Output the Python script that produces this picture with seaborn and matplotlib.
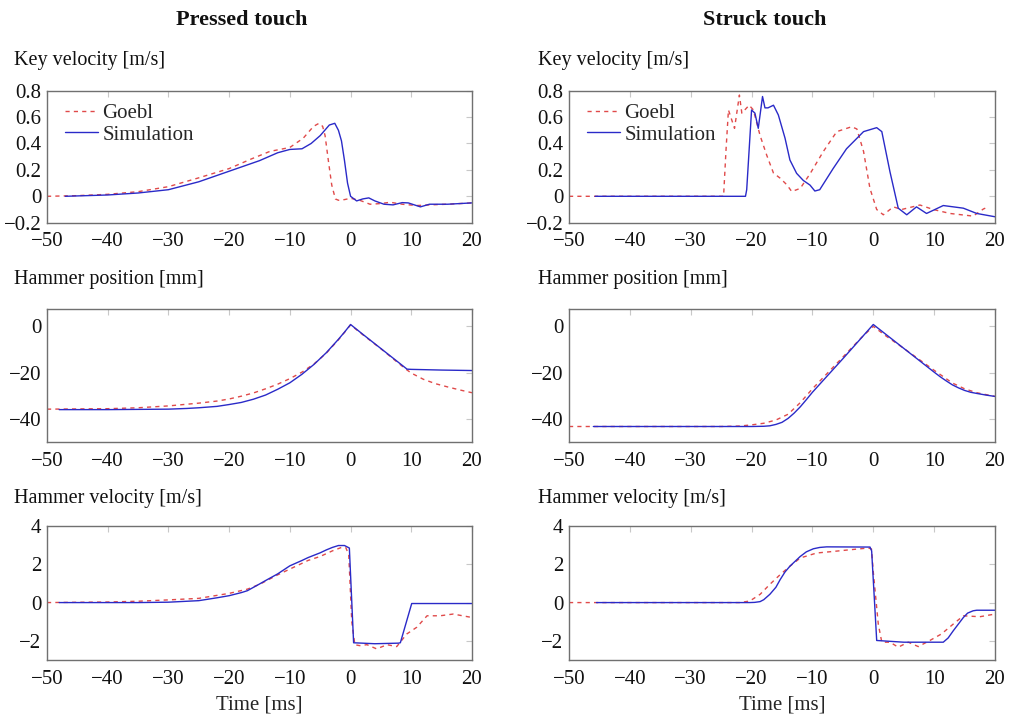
import numpy as np
import pandas as pd
import matplotlib
matplotlib.use("Agg")
import matplotlib.pyplot as plt
from matplotlib.ticker import FixedLocator, FuncFormatter
import seaborn as sns

# ---------------- data ----------------
# Key velocity, pressed touch [m/s]
kvp_goebl_t = [-50, -45, -40, -35, -30, -25, -20, -16.5, -13.3, -10, -7.8, -6.1, -5.2, -4.6, -4.2, -3.6, -3.1,
               -2.5, -2, -1, 0, 1.5, 3.2, 5, 6.5, 8.5, 10.9, 13, 16, 20]
kvp_goebl_v = [0, 0.005, 0.015, 0.035, 0.073, 0.14, 0.21, 0.28, 0.34, 0.37, 0.44, 0.53, 0.553, 0.53, 0.46, 0.25,
               0.085, -0.02, -0.03, -0.025, -0.015, -0.03, -0.06, -0.055, -0.045, -0.06, -0.07, -0.065, -0.06, -0.05]
kvp_sim_t = [-47, -40, -35, -30, -25, -20, -15, -12, -10, -8, -6.5, -5, -3.5, -2.6, -2, -1.5, -1, -0.5, 0, 1, 2, 3,
             4, 5.5, 7, 8.5, 9.5, 11.5, 13, 16, 20]
kvp_sim_v = [0, 0.01, 0.025, 0.05, 0.11, 0.19, 0.27, 0.33, 0.355, 0.36, 0.4, 0.46, 0.54, 0.553, 0.5, 0.42, 0.27,
             0.1, 0.0, -0.035, -0.02, -0.012, -0.035, -0.06, -0.065, -0.048, -0.05, -0.08, -0.06, -0.06, -0.05]

# Key velocity, struck touch [m/s]
kvs_goebl_t = [-50, -24.6, -24.2, -23.8, -22.8, -22.0, -21.6, -20.4, -19.7, -18.6, -17.5, -16.4, -15.3, -14.2,
               -13.4, -12.0, -10.4, -8.2, -6.0, -3.55, -2.7, -1.6, -0.55, 0.56, 1.65, 3.3, 4.66, 7.67, 9.86, 12.6,
               16.4, 18.1, 18.4]
kvs_goebl_v = [0, 0, 0.35, 0.654, 0.515, 0.767, 0.63, 0.69, 0.654, 0.46, 0.31, 0.176, 0.137, 0.087, 0.036, 0.06,
               0.17, 0.34, 0.49, 0.527, 0.51, 0.34, 0.06, -0.1, -0.14, -0.08, -0.1, -0.066, -0.1, -0.13, -0.15,
               -0.096, -0.09]
kvs_sim_t = [-45.7, -21, -20.8, -20.0, -19.45, -18.9, -18.2, -17.8, -17.3, -16.4, -15.6, -14.5, -13.7, -12.6,
             -11.5, -10.4, -9.6, -8.8, -6.6, -4.4, -1.6, 0.56, 1.4, 2.74, 4.1, 5.5, 7.1, 8.75, 11.5, 14.8, 17.0, 20]
kvs_sim_v = [0, 0, 0.05, 0.654, 0.63, 0.515, 0.756, 0.67, 0.67, 0.69, 0.616, 0.44, 0.275, 0.174, 0.12, 0.085,
             0.04, 0.05, 0.21, 0.36, 0.49, 0.52, 0.49, 0.186, -0.09, -0.14, -0.08, -0.13, -0.07, -0.09, -0.13, -0.155]

# Hammer position, pressed touch [mm]
hpp_goebl_t = [-50, -40, -35, -30, -25, -22, -20, -18, -16, -14, -12, -10, -8, -6, -4, -2, -1, 0, 2, 5, 9, 10,
               12, 14, 16, 18, 20]
hpp_goebl_v = [-35.8, -35.6, -35.2, -34.4, -33.2, -32.3, -31.4, -30.2, -28.8, -27.0, -25.0, -22.6, -19.8, -16.2,
               -11.6, -5.8, -2.6, 0.6, -3.6, -9.7, -18.3, -20.2, -22.9, -24.8, -26.2, -27.5, -28.7]
hpp_sim_t = [-48, -40, -30, -27, -25, -22, -20, -18, -16, -14, -12, -10, -8, -6, -4, -2, -1, 0, 2, 5, 9.3, 10,
             15, 20]
hpp_sim_v = [-36, -36, -35.8, -35.5, -35.2, -34.6, -33.8, -32.9, -31.5, -29.7, -27.2, -24.4, -20.7, -16.4, -11.4,
             -5.6, -2.5, 0.8, -3.4, -9.6, -18.5, -18.6, -18.9, -19.1]

# Hammer position, struck touch [mm]
hps_goebl_t = [-50, -25, -22, -20, -18, -16, -14, -12, -10, -8, -5, -2, 0, 2, 5, 10, 13, 15, 17, 20]
hps_goebl_v = [-43.3, -43.3, -43.1, -42.6, -41.9, -40.5, -38, -33, -27, -21.5, -13.3, -5, 0, -4, -9.5, -19,
               -24.5, -27, -28.7, -30.3]
hps_sim_t = [-46, -20, -18, -17, -16, -15, -14, -13, -12, -11, -10, -5, 0, 5, 10, 11, 12, 13, 14, 15, 16, 17,
             18.5, 20]
hps_sim_v = [-43.3, -43.3, -43.2, -43, -42.4, -41.5, -39.8, -37.5, -34.8, -31.7, -28.5, -14, 0.8, -9.5, -19.8,
             -21.8, -23.6, -25.3, -26.6, -27.7, -28.5, -29, -29.7, -30.3]

# Hammer velocity, pressed touch [m/s]
hvp_goebl_t = [-50, -40, -35, -30, -25, -20, -17, -15, -12, -10, -7, -5, -3, -1.5, -0.8, -0.3, 0.2, 0.7, 1.5,
               2.7, 4.3, 6.0, 7.6, 9.26, 10.9, 12.6, 14.75, 16.9, 20]
hvp_goebl_v = [0, 0.03, 0.07, 0.14, 0.22, 0.48, 0.7, 0.95, 1.45, 1.75, 2.2, 2.41, 2.7, 2.88, 2.88, 2.5, -1.0,
               -2.2, -2.25, -2.2, -2.42, -2.2, -2.3, -1.64, -1.29, -0.69, -0.69, -0.6, -0.78]
hvp_sim_t = [-48, -40, -35, -30, -25, -22, -20, -18, -17, -15, -14, -12, -10, -8, -7, -5, -4, -3, -2, -1, -0.2,
             0.5, 4, 7.87, 8.2, 10.07, 20]
hvp_sim_v = [0, 0, 0.0, 0.02, 0.1, 0.25, 0.36, 0.52, 0.62, 0.97, 1.15, 1.5, 1.92, 2.2, 2.35, 2.6, 2.75, 2.88,
             2.98, 2.98, 2.85, -2.1, -2.15, -2.12, -2.1, -0.05, -0.05]

# Hammer velocity, struck touch [m/s]
hvs_goebl_t = [-50, -22, -20.3, -18.6, -17.0, -15.3, -13.7, -12.0, -9.3, -6.6, -3.8, -0.8, -0.3, 0.0, 0.82, 1.4,
               2.74, 4.1, 5.75, 7.4, 9.3, 11.2, 13.15, 14.8, 17.5, 20]
hvs_goebl_v = [0, 0, 0.08, 0.43, 0.95, 1.46, 1.9, 2.33, 2.59, 2.67, 2.76, 2.85, 2.8, 1.6, -1.12, -2.07, -2.07,
               -2.33, -2.07, -2.3, -1.98, -1.64, -1.12, -0.69, -0.74, -0.6]
hvs_sim_t = [-45.5, -20.3, -19.5, -18.6, -18.0, -17.0, -16.0, -15.3, -14.5, -13.7, -12.0, -11.0, -9.85, -8.8,
             -7.66, -0.54, -0.27, 0.56, 5, 11.5, 12.3, 13.15, 14.8, 15.5, 16.4, 17.0, 20]
hvs_sim_v = [0, 0, 0.01, 0.05, 0.15, 0.43, 0.8, 1.2, 1.6, 1.9, 2.41, 2.65, 2.81, 2.88, 2.91, 2.9, 2.7, -1.98,
             -2.07, -2.07, -1.85, -1.47, -0.78, -0.55, -0.43, -0.4, -0.4]

col_titles = ["Pressed touch", "Struck touch"]
row_labels = ["Key velocity [m/s]", "Hammer position [mm]", "Hammer velocity [m/s]"]
x_label = "Time [ms]"
series_names = ["Goebl", "Simulation"]
x_ticks = [-50, -40, -30, -20, -10, 0, 10, 20]
y_ticks = [[-0.2, 0, 0.2, 0.4, 0.6, 0.8], [-40, -20, 0], [-2, 0, 2, 4]]
y_lims = [(-0.2, 0.8), (-50, 7.5), (-3, 4)]

panels = [
    [(kvp_goebl_t, kvp_goebl_v, kvp_sim_t, kvp_sim_v), (kvs_goebl_t, kvs_goebl_v, kvs_sim_t, kvs_sim_v)],
    [(hpp_goebl_t, hpp_goebl_v, hpp_sim_t, hpp_sim_v), (hps_goebl_t, hps_goebl_v, hps_sim_t, hps_sim_v)],
    [(hvp_goebl_t, hvp_goebl_v, hvp_sim_t, hvp_sim_v), (hvs_goebl_t, hvs_goebl_v, hvs_sim_t, hvs_sim_v)],
]

# ---------------- style ----------------
sns.set_theme(style="white")
plt.rcParams["font.family"] = ["Liberation Serif", "DejaVu Serif"]
plt.rcParams["axes.unicode_minus"] = True
FS = 15

W, H = 1024, 723
fig = plt.figure(figsize=(W / 100, H / 100), dpi=100)

col_x = [(47, 472), (569, 995)]
row_y = [(90.7, 222.7), (309, 442), (526, 660)]
label_x = [14, 538]
label_y = [60, 280, 498]
title_x = [242, 765]

palette = {"Goebl": "#e04a4a", "Simulation": "#2a2ac8"}
dashes = {"Goebl": (3, 3), "Simulation": ""}


def fmt(v, pos):
    s = "%g" % v
    return s.replace("-", "\u2212")


for r in range(3):
    for c in range(2):
        x0, x1 = col_x[c]
        y0, y1 = row_y[r]
        ax = fig.add_axes([x0 / W, 1 - y1 / H, (x1 - x0) / W, (y1 - y0) / H])
        gt, gv, st, sv = panels[r][c]
        df = pd.DataFrame({
            "t": list(gt) + list(st),
            "v": list(gv) + list(sv),
            "src": ["Goebl"] * len(gt) + ["Simulation"] * len(st),
        })
        sns.lineplot(data=df, x="t", y="v", hue="src", style="src", palette=palette,
                     dashes=dashes, estimator=None, sort=False, linewidth=1.0,
                     legend=(r == 0), ax=ax)
        ax.set_xlim(-50, 20)
        ax.set_ylim(*y_lims[r])
        ax.xaxis.set_major_locator(FixedLocator(x_ticks))
        ax.yaxis.set_major_locator(FixedLocator(y_ticks[r]))
        ax.xaxis.set_major_formatter(FuncFormatter(fmt))
        ax.yaxis.set_major_formatter(FuncFormatter(fmt))
        ax.tick_params(direction="in", top=True, right=True, length=4, width=0.8,
                       color="#c8c8c8", labelsize=FS, labelcolor="#111111")
        ax.tick_params(axis="x", pad=7)
        ax.tick_params(axis="y", pad=4)
        for sp in ax.spines.values():
            sp.set_color("#707070")
            sp.set_linewidth(1.0)
        ax.set_xlabel("")
        ax.set_ylabel("")
        if r == 0:
            sns.move_legend(ax, "upper left", bbox_to_anchor=(0.032, 0.935), frameon=False, title=None,
                            fontsize=FS, handlelength=1.6, handletextpad=0.2, labelspacing=0.1,
                            borderaxespad=0.0, borderpad=0.2)
        if r == 2:
            ax.set_xlabel(x_label, fontsize=FS, labelpad=5)
        fig.text(label_x[c] / W, 1 - label_y[r] / H, row_labels[r], fontsize=14.5,
                 ha="left", va="center", color="#111111")

for c in range(2):
    fig.text(title_x[c] / W, 1 - 20 / H, col_titles[c], fontsize=FS + 1, fontweight="bold",
             ha="center", va="center", color="#111111")

fig.savefig("out.png", dpi=100)
